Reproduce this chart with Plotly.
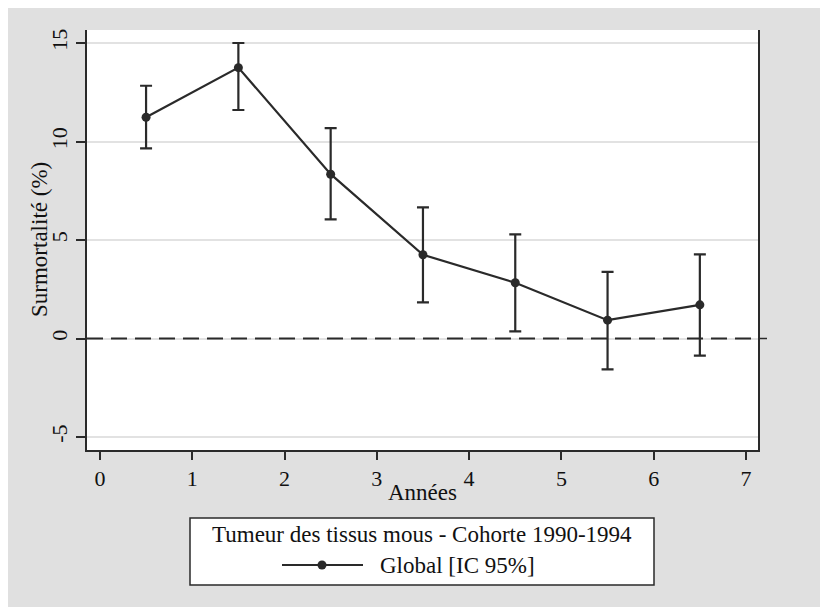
import plotly.graph_objects as go

# ---- data ----
years = [0.5, 1.5, 2.5, 3.5, 4.5, 5.5, 6.5]
excess = [11.23, 13.75, 8.34, 4.25, 2.83, 0.93, 1.71]
ci_low = [9.65, 11.6, 6.05, 1.83, 0.36, -1.57, -0.87]
ci_high = [12.83, 15.0, 10.68, 6.66, 5.29, 3.38, 4.27]
x_ticks = [0, 1, 2, 3, 4, 5, 6, 7]
y_ticks = [-5, 0, 5, 10, 15]
y_tick_labels = ["-5", "0", "5", "10", "15"]
legend_title = "Tumeur des tissus mous - Cohorte 1990-1994"
series_name = "Global [IC 95%]"
x_title = "Années"
y_title = "Surmortalité (%)"

# page body margin offset (8px) -> figure occupies screen from (8, 8)
OFF = 8
W, H = 820, 599
# plot area in screen pixels: x 87..758, y 30..450
SL, SR, ST, SB = 87, 758, 30, 450
ML, MT = SL - OFF, ST - OFF
MR, MB = W - (SR - OFF), H - (SB - OFF)
PW, PH = SR - SL, SB - ST

def px(xs):
    return (xs - SL) / PW

def py(ys):
    return (SB - ys) / PH

FONT = "Liberation Serif"
INK = "#2a2a2a"
TXT = "#111111"
BG = "#e0e0e0"

err_plus = [h - v for h, v in zip(ci_high, excess)]
err_minus = [v - l for v, l in zip(excess, ci_low)]

fig = go.Figure()
fig.add_trace(go.Scatter(
    x=years, y=excess, mode="lines+markers", name=series_name,
    line=dict(color=INK, width=2.2),
    marker=dict(color=INK, size=9),
    error_y=dict(type="data", symmetric=False, array=err_plus, arrayminus=err_minus,
                 color=INK, thickness=2.2, width=6),
    showlegend=False,
))

shapes = [
    # reference line at 0
    dict(type="line", xref="paper", yref="y", x0=0, x1=1, y0=0, y1=0,
         line=dict(color=INK, width=2, dash="16px,8px")),
    # right tick at 0
    dict(type="line", xref="paper", yref="y", x0=1, x1=px(767), y0=0, y1=0,
         line=dict(color=INK, width=1.5)),
    # legend box
    dict(type="rect", xref="paper", yref="paper", x0=px(190), x1=px(654), y0=py(585), y1=py(518),
         fillcolor="white", line=dict(color=INK, width=1.5)),
    dict(type="line", xref="paper", yref="paper", x0=px(282), x1=px(363), y0=py(565), y1=py(565),
         line=dict(color=INK, width=2.2)),
    dict(type="circle", xref="paper", yref="paper", xsizemode="pixel", ysizemode="pixel",
         xanchor=px(322), yanchor=py(565), x0=-4.5, x1=4.5, y0=-4.5, y1=4.5,
         fillcolor=INK, line=dict(width=0)),
]

TS = 23
annotations = [
    dict(text=x_title, xref="paper", yref="paper", x=px(422), y=py(492), showarrow=False,
         font=dict(family=FONT, size=TS, color=TXT), xanchor="center", yanchor="middle"),
    dict(text=y_title, xref="paper", yref="paper", x=px(39), y=py(240), showarrow=False, textangle=-90,
         font=dict(family=FONT, size=TS, color=TXT), xanchor="center", yanchor="middle"),
    dict(text=legend_title, xref="paper", yref="paper", x=px(422), y=py(534), showarrow=False,
         font=dict(family=FONT, size=TS, color=TXT), xanchor="center", yanchor="middle"),
    dict(text=series_name, xref="paper", yref="paper", x=px(378), y=py(565), showarrow=False,
         font=dict(family=FONT, size=TS, color=TXT), xanchor="left", yanchor="middle"),
]

fig.update_layout(
    width=W, height=H,
    margin=dict(l=ML, r=MR, t=MT, b=MB, pad=0),
    paper_bgcolor=BG, plot_bgcolor="white",
    showlegend=False,
    shapes=shapes, annotations=annotations,
    font=dict(family=FONT, size=22, color=TXT),
)
fig.update_xaxes(
    range=[-0.14, 7.13], tickvals=x_ticks, showgrid=False, zeroline=False,
    showline=True, linecolor=INK, linewidth=1.5,
    ticks="outside", ticklen=8, tickwidth=1.5, tickcolor=INK,
    tickfont=dict(family=FONT, size=22, color=TXT),
)
fig.update_yaxes(
    range=[-5.66, 15.66], tickvals=y_ticks, ticktext=y_tick_labels, tickangle=-90,
    showgrid=True, gridcolor="#e2e2e2", gridwidth=1.5, zeroline=False,
    showline=True, mirror=True, linecolor=INK, linewidth=1.5,
    ticks="outside", ticklen=9, tickwidth=1.5, tickcolor=INK,
    tickfont=dict(family=FONT, size=22, color=TXT),
)

fig.write_html("out.html")
